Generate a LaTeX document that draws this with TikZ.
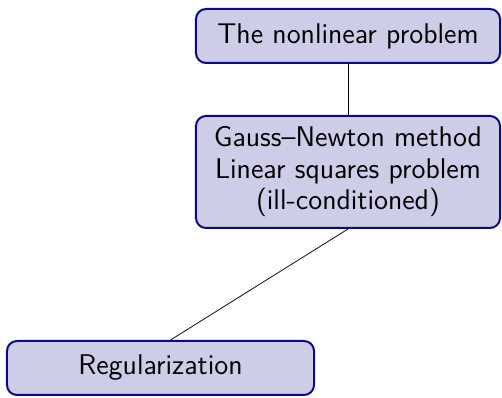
\documentclass[tikz,border=0pt]{standalone}
\usepackage{tikz}
\usetikzlibrary{positioning, calc}

\definecolor{boxfill}{RGB}{205,205,232}
\definecolor{boxline}{RGB}{10,10,135}

\begin{document}
\begin{tikzpicture}[
    x=0.4pt, y=-0.4pt,
    node distance=20.4pt,
    box/.style={
        rectangle, draw=boxline, line width=0.8pt, rounded corners=4pt,
        fill=boxfill, align=center, font=\sffamily\fontsize{11.4}{12.6}\selectfont,
        minimum width=121.6pt, minimum height=21.6pt
    },
    link/.style={black, line width=0.3pt}
]
\useasboundingbox (0,0) rectangle (502,398);

% Tree of boxes
\node[box] (nonlin) at (348,36) {The nonlinear problem};
\node[box, minimum height=44.8pt, below=of nonlin] (gauss) {Gauss--Newton method\\Linear squares problem\\(ill-conditioned)};
\node[box, minimum width=122.8pt] (reg) at (160.5,368) {Regularization};

% Edges
\draw[link] (nonlin) -- (gauss);
\draw[link] (gauss.south) -- ([xshift=4pt]reg.north);

\end{tikzpicture}
\end{document}
